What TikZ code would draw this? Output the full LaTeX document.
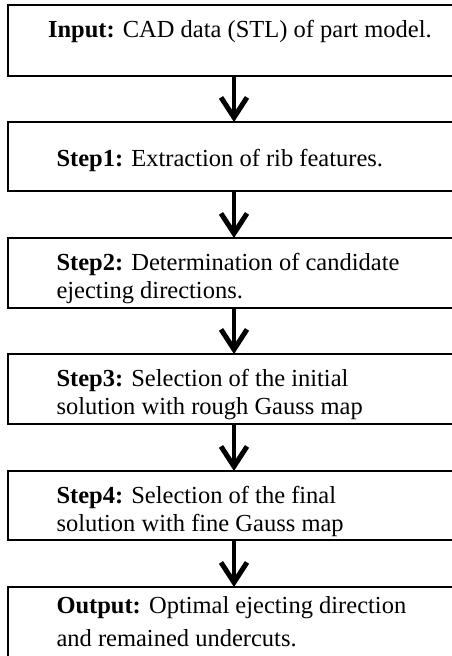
\documentclass[tikz,border=0pt]{standalone}
\usepackage{fontspec}
\setmainfont{Liberation Serif}
\usetikzlibrary{arrows.meta}
\begin{document}
\begin{tikzpicture}[x=1pt,y=-1pt,
  boxnode/.style={draw=black, line width=2.6pt, rectangle, minimum width=470pt,
    inner sep=0pt, outer sep=0pt, anchor=north west},
  txt/.style={anchor=base west, inner sep=0pt, outer sep=0pt, align=left,
    font=\fontsize{24.5}{28.5}\selectfont},
  arr/.style={line width=4.8pt,
    -{Straight Barb[length=20pt,width=26pt,line width=5pt]}}
]
\clip (0,0) rectangle (452,656);
\fill[white] (0,0) rectangle (452,656);
% boxes
\node[boxnode, minimum height=71pt] (b1) at (8,5) {};
\node[boxnode, minimum height=69pt] (b2) at (8,122) {};
\node[boxnode, minimum height=70pt] (b3) at (8,238) {};
\node[boxnode, minimum height=70pt] (b4) at (8,354) {};
\node[boxnode, minimum height=69pt] (b5) at (8,471) {};
\node[boxnode, minimum height=70pt] (b6) at (8,587) {};
% texts
\node[txt] (t1) at (48,37) {\textbf{Input:} CAD data (STL) of part model.};
\node[txt] (t2) at (56.5,166) {\textbf{Step1:} Extraction of rib features.};
\node[txt] (t3) at (56.5,270) {\textbf{Step2:} Determination of candidate};
\node[txt] (t3b) at (56.5,298) {ejecting directions.};
\node[txt] (t4) at (56.5,386) {\textbf{Step3:} Selection of the initial};
\node[txt] (t4b) at (56.5,414) {solution with rough Gauss map};
\node[txt] (t5) at (56.5,503) {\textbf{Step4:} Selection of the final};
\node[txt] (t5b) at (56.5,531) {solution with fine Gauss map};
\node[txt] (t6) at (56.5,613) {\textbf{Output:} Optimal ejecting direction};
\node[txt] (t6b) at (56.5,646) {and remained undercuts.};
% arrows
\coordinate (ax) at (234,0);
\draw[arr] (b1.south -| ax) -- (b2.north -| ax);
\draw[arr] (b2.south -| ax) -- (b3.north -| ax);
\draw[arr] (b3.south -| ax) -- (b4.north -| ax);
\draw[arr] (b4.south -| ax) -- (b5.north -| ax);
\draw[arr] (b5.south -| ax) -- (b6.north -| ax);
\end{tikzpicture}
\end{document}
